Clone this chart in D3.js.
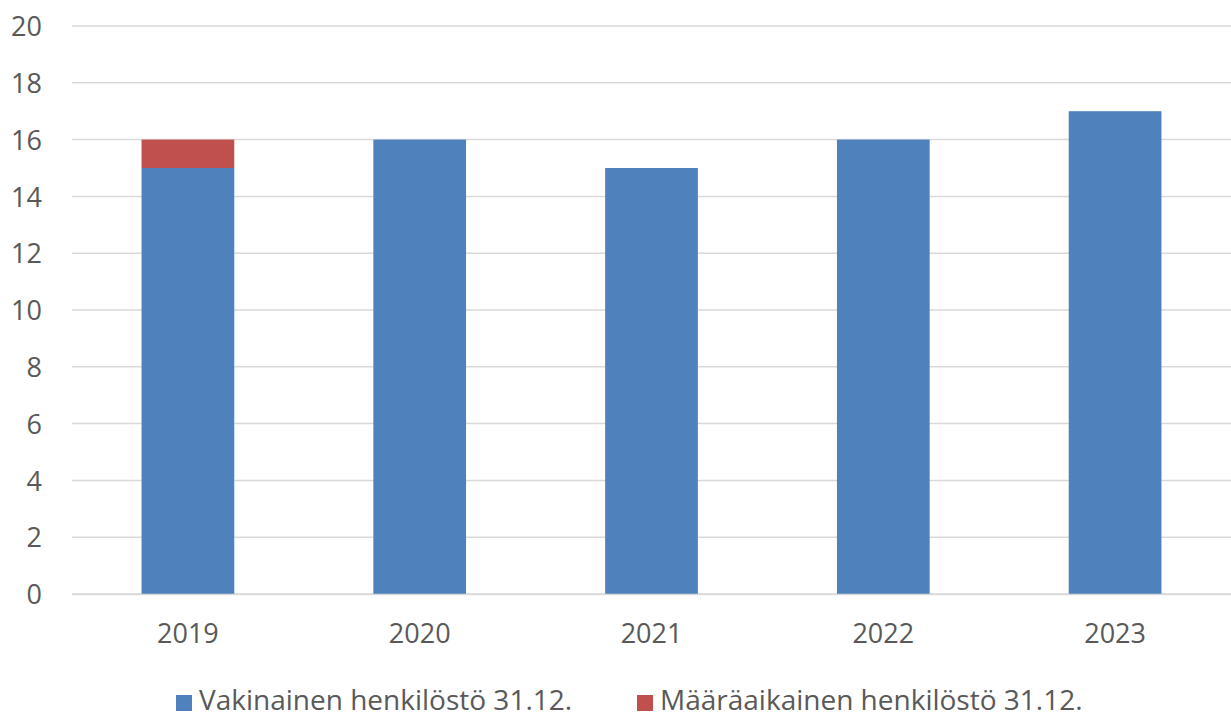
<!DOCTYPE html>
<html>
<head>
<meta charset="utf-8">
<script src="https://cdn.jsdelivr.net/npm/d3@7"></script>
<style>
	body { margin: 0; background: #fff; }
	svg text { font-family: "Open Sans", "Noto Sans", sans-serif; fill: #595959; }
</style>
</head>
<body>
<svg id="chart" width="1231" height="718"></svg>
<script>
var years = ["2019", "2020", "2021", "2022", "2023"];
var vakinainen = [15, 16, 15, 16, 17];
var maaraaikainen = [1, 0, 0, 0, 0];
var seriesNames = ["Vakinainen henkilöstö 31.12.", "Määräaikainen henkilöstö 31.12."];
var seriesColors = ["#4F81BD", "#C0504D"];
var yTicks = [0, 2, 4, 6, 8, 10, 12, 14, 16, 18, 20];

var width = 1231, height = 718;
var margin = { top: 26, right: 0, bottom: 124, left: 72 };

var svg = d3.select("#chart");

var xScale = d3.scaleBand()
	.domain(years)
	.range([margin.left, width - margin.right])
	.paddingInner(0.6)
	.paddingOuter(0.3);

var yScale = d3.scaleLinear()
	.domain([0, 20])
	.range([height - margin.bottom, margin.top]);

// gridlines
svg.append("g")
	.selectAll("line")
	.data(yTicks)
	.enter()
	.append("line")
	.attr("x1", margin.left)
	.attr("x2", width - margin.right)
	.attr("y1", function(d) { return yScale(d); })
	.attr("y2", function(d) { return yScale(d); })
	.attr("stroke", "#D9D9D9")
	.attr("stroke-width", 1.5);

// stacked bars
var stacked = years.map(function(y, i) {
	return { year: y, a: vakinainen[i], b: maaraaikainen[i] };
});
var stack = d3.stack().keys(["a", "b"])(stacked);

svg.append("g")
	.selectAll("g")
	.data(stack)
	.enter()
	.append("g")
	.attr("fill", function(d, i) { return seriesColors[i]; })
	.selectAll("rect")
	.data(function(d) { return d; })
	.enter()
	.append("rect")
	.attr("x", function(d) { return xScale(d.data.year); })
	.attr("width", xScale.bandwidth())
	.attr("y", function(d) { return yScale(d[1]); })
	.attr("height", function(d) { return yScale(d[0]) - yScale(d[1]); });

// y axis
var yAxis = svg.append("g")
	.attr("transform", "translate(42,0)")
	.call(d3.axisLeft(yScale).tickValues(yTicks).tickSize(0).tickPadding(0));
yAxis.select(".domain").remove();
yAxis.selectAll("text")
	.attr("font-size", 27)
	.attr("dy", "0.36em");

// x axis
var xAxis = svg.append("g")
	.attr("transform", "translate(0," + yScale(0) + ")")
	.call(d3.axisBottom(xScale).tickSize(0).tickPadding(0));
xAxis.select(".domain")
	.attr("stroke", "#D9D9D9")
	.attr("stroke-width", 1.5);
xAxis.selectAll("text")
	.attr("font-size", 27)
	.attr("y", 49)
	.attr("dy", 0);

// legend
var legendX = [176, 637];
var legend = svg.append("g")
	.selectAll("g")
	.data(seriesNames)
	.enter()
	.append("g")
	.attr("transform", function(d, i) { return "translate(" + legendX[i] + ",695)"; });
legend.append("rect")
	.attr("width", 16)
	.attr("height", 16)
	.attr("fill", function(d, i) { return seriesColors[i]; });
legend.append("text")
	.attr("x", 23)
	.attr("y", 15)
	.attr("font-size", 28)
	.text(function(d) { return d; });
</script>
</body>
</html>
